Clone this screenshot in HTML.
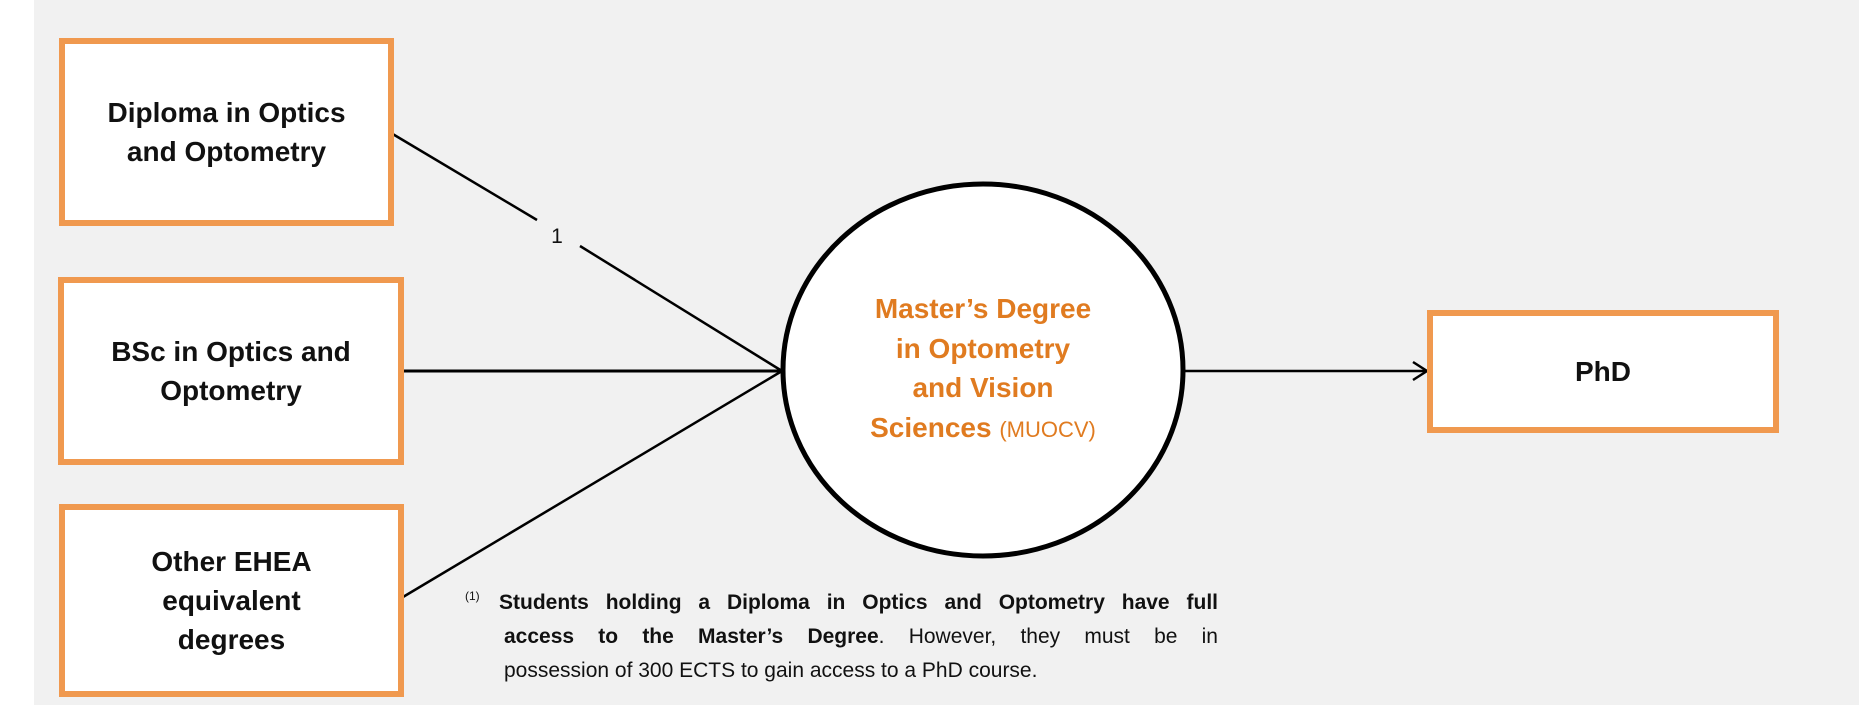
<!DOCTYPE html>
<html><head><meta charset="utf-8"><style>
body{margin:0;width:1859px;height:705px;background:#f1f1f1;position:relative;overflow:hidden;font-family:"Liberation Sans",sans-serif;}
.strip{position:absolute;left:0;top:0;width:34px;height:705px;background:#fff;}
.box{position:absolute;background:#fff;border:6px solid #f0994f;box-sizing:border-box;display:flex;align-items:center;justify-content:center;text-align:center;font-weight:bold;font-size:28px;line-height:39px;color:#111;}
.t{position:absolute;text-align:center;font-weight:bold;font-size:28px;line-height:39.5px;color:#e07b20;}
.fn{position:absolute;font-size:21px;color:#111;width:716px;}
.j{text-align:justify;text-align-last:justify;}
</style></head><body>
<div class="strip"></div>
<svg width="1859" height="705" style="position:absolute;left:0;top:0">
<line x1="391" y1="133" x2="537" y2="220" stroke="#000" stroke-width="2.5"/>
<line x1="580" y1="246" x2="782" y2="371" stroke="#000" stroke-width="2.5"/>
<line x1="403" y1="371" x2="782" y2="371" stroke="#000" stroke-width="3"/>
<line x1="403" y1="597" x2="782" y2="371" stroke="#000" stroke-width="2.5"/>
<ellipse cx="983" cy="370" rx="200" ry="186" fill="#fff" stroke="#000" stroke-width="5"/>
<line x1="1185" y1="371" x2="1426" y2="371" stroke="#000" stroke-width="2.5"/>
<polyline points="1413,362 1427,371 1413,380" fill="none" stroke="#000" stroke-width="2.5"/>
<text x="557" y="243" font-family="Liberation Sans" font-size="21" text-anchor="middle" fill="#111">1</text>
</svg>
<div class="box" style="left:59px;top:38px;width:335px;height:188px;">Diploma in Optics<br>and Optometry</div>
<div class="box" style="left:58px;top:277px;width:346px;height:188px;">BSc in Optics and<br>Optometry</div>
<div class="box" style="left:59px;top:504px;width:345px;height:193px;">Other EHEA<br>equivalent<br>degrees</div>
<div class="box" style="left:1427px;top:310px;width:352px;height:123px;">PhD</div>
<div class="t" style="left:813px;top:289px;width:340px;">Master’s Degree<br>in Optometry<br>and Vision<br>Sciences <span style="font-weight:normal;font-size:22px">(MUOCV)</span></div>
<div style="position:absolute;left:465px;top:589px;font-size:12px;color:#111">(1)</div>
<div class="fn j" style="left:499px;top:591px;width:719px;font-weight:bold">Students holding a Diploma in Optics and Optometry have full</div>
<div class="fn j" style="left:504px;top:625px;width:714px;"><b>access to the Master’s Degree</b>. However, they must be in</div>
<div class="fn" style="left:504px;top:659px;">possession of 300 ECTS to gain access to a PhD course.</div>
</body></html>
